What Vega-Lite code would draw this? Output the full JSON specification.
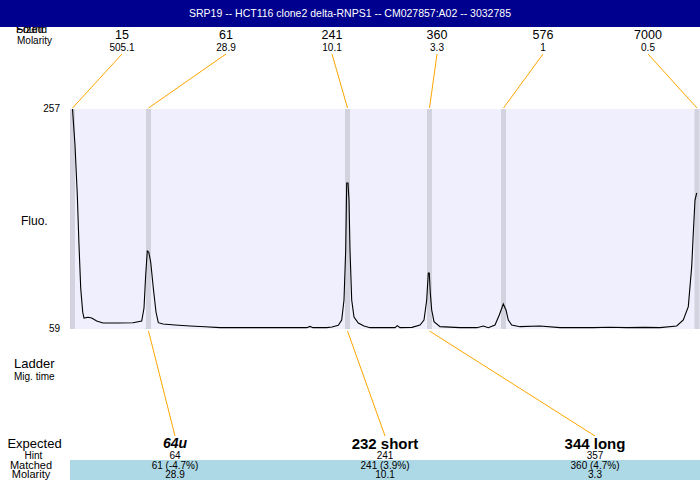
{
  "$schema": "https://vega.github.io/schema/vega-lite/v6.json",
  "width": 700,
  "height": 480,
  "autosize": {"type": "none"},
  "padding": 0,
  "background": "white",
  "config": {"view": {"stroke": null}, "font": "Liberation Sans", "text": {"font": "Liberation Sans"}},
  "datasets": {
    "ladder": [
      {"size": "15", "molarity": "505.1", "label_pos": 122, "peak_pos": 72.5},
      {"size": "61", "molarity": "28.9", "label_pos": 226, "peak_pos": 148.5},
      {"size": "241", "molarity": "10.1", "label_pos": 332, "peak_pos": 347.5},
      {"size": "360", "molarity": "3.3", "label_pos": 437, "peak_pos": 429.5},
      {"size": "576", "molarity": "1", "label_pos": 543, "peak_pos": 503.5},
      {"size": "7000", "molarity": "0.5", "label_pos": 648, "peak_pos": 697}
    ],
    "peaks": [
      {"name": "64u", "hint": "64", "matched": "61 (-4.7%)", "molarity": "28.9", "label_pos": 175, "peak_pos": 148.5, "italic": true},
      {"name": "232 short", "hint": "241", "matched": "241 (3.9%)", "molarity": "10.1", "label_pos": 385, "peak_pos": 347.5, "italic": false},
      {"name": "344 long", "hint": "357", "matched": "360 (4.7%)", "molarity": "3.3", "label_pos": 595, "peak_pos": 429.5, "italic": false}
    ],
    "trace": [
      {"t": 72.5, "fluo": 257}, {"t": 75, "fluo": 224.6}, {"t": 77.3, "fluo": 179.6}, {"t": 79, "fluo": 134.6},
      {"t": 80.7, "fluo": 95.9}, {"t": 82.7, "fluo": 74.3}, {"t": 84, "fluo": 68.9}, {"t": 88, "fluo": 69.6},
      {"t": 91.7, "fluo": 68.9}, {"t": 96.7, "fluo": 66.2}, {"t": 103, "fluo": 64.4}, {"t": 118, "fluo": 64.4},
      {"t": 133, "fluo": 64.6}, {"t": 141.7, "fluo": 66.2}, {"t": 144, "fluo": 77.9}, {"t": 145.7, "fluo": 107.6},
      {"t": 147.3, "fluo": 129.2}, {"t": 148.7, "fluo": 128.3}, {"t": 150.7, "fluo": 119.3}, {"t": 153.3, "fluo": 95.9},
      {"t": 156, "fluo": 74.3}, {"t": 158.3, "fluo": 64.7}, {"t": 163, "fluo": 63.5}, {"t": 175, "fluo": 62.6},
      {"t": 190, "fluo": 61.7}, {"t": 205, "fluo": 61.0}, {"t": 220, "fluo": 60.2}, {"t": 240, "fluo": 60.2},
      {"t": 260, "fluo": 60.2}, {"t": 285, "fluo": 60.2}, {"t": 306.7, "fluo": 60.2}, {"t": 310, "fluo": 61.3},
      {"t": 313, "fluo": 60.2}, {"t": 326.7, "fluo": 60.2}, {"t": 332, "fluo": 60.8}, {"t": 338.3, "fluo": 62.3},
      {"t": 341.7, "fluo": 67.1}, {"t": 344, "fluo": 85.1}, {"t": 345.7, "fluo": 130.1}, {"t": 346.7, "fluo": 190.4},
      {"t": 348, "fluo": 190.4}, {"t": 349, "fluo": 175.1}, {"t": 350, "fluo": 130.1}, {"t": 351.7, "fluo": 85.1},
      {"t": 354, "fluo": 69.8}, {"t": 358.3, "fluo": 64.4}, {"t": 364, "fluo": 61.7}, {"t": 370, "fluo": 60.2},
      {"t": 395, "fluo": 60.2}, {"t": 397.3, "fluo": 62.0}, {"t": 400, "fluo": 60.2}, {"t": 412, "fluo": 60.5},
      {"t": 420, "fluo": 62.6}, {"t": 424, "fluo": 67.1}, {"t": 426.7, "fluo": 85.1}, {"t": 428.3, "fluo": 109.4},
      {"t": 429.3, "fluo": 109.4}, {"t": 430.3, "fluo": 91.4}, {"t": 431.7, "fluo": 76.1}, {"t": 434, "fluo": 65.6},
      {"t": 440, "fluo": 61.1}, {"t": 460, "fluo": 60.2}, {"t": 477, "fluo": 60.2}, {"t": 483.3, "fluo": 61.7},
      {"t": 488.3, "fluo": 60.2}, {"t": 495, "fluo": 62.6}, {"t": 499.3, "fluo": 71.6}, {"t": 503.3, "fluo": 81.5},
      {"t": 506, "fluo": 76.1}, {"t": 508.3, "fluo": 67.1}, {"t": 511.7, "fluo": 62.6}, {"t": 520, "fluo": 61.1},
      {"t": 540, "fluo": 61.7}, {"t": 560, "fluo": 60.2}, {"t": 593, "fluo": 60.2}, {"t": 610, "fluo": 60.6},
      {"t": 626.7, "fluo": 60.2}, {"t": 645, "fluo": 60.5}, {"t": 660, "fluo": 60.2}, {"t": 676.7, "fluo": 61.7},
      {"t": 683.3, "fluo": 67.1}, {"t": 688.3, "fluo": 79.1}, {"t": 691.7, "fluo": 115.1}, {"t": 693.3, "fluo": 145.4},
      {"t": 695, "fluo": 175.1}, {"t": 696.7, "fluo": 181.4}
    ]
  },
  "resolve": {"scale": {"y": "independent"}},
  "layer": [
    {
      "layer": [
        {
          "data": {"values": [{}]},
          "mark": {"type": "rect", "color": "#efeffd"},
          "encoding": {
            "x": {"datum": 70, "type": "quantitative", "scale": {"domain": [0, 700], "nice": false, "zero": false}, "axis": null},
            "x2": {"datum": 700},
            "y": {"datum": 59, "type": "quantitative", "scale": {"domain": [59, 257], "range": [329, 109], "nice": false, "zero": false}, "axis": null},
            "y2": {"datum": 257}
          }
        },
        {
          "data": {"name": "ladder"},
          "mark": {"type": "rule", "color": "#d3d3df", "strokeWidth": 5},
          "encoding": {
            "x": {"field": "peak_pos", "type": "quantitative", "axis": null},
            "y": {"datum": 59, "type": "quantitative", "axis": null},
            "y2": {"datum": 257}
          }
        },
        {
          "data": {"name": "trace"},
          "mark": {"type": "line", "color": "black", "strokeWidth": 1.1},
          "encoding": {
            "x": {"field": "t", "type": "quantitative", "axis": null},
            "y": {"field": "fluo", "type": "quantitative", "axis": null}
          }
        },
        {
          "data": {"values": [{"fluo": 257}, {"fluo": 59}]},
          "mark": {"type": "text", "align": "right", "baseline": "middle", "fontSize": 10, "color": "black"},
          "encoding": {
            "x": {"datum": 60, "type": "quantitative", "axis": null},
            "y": {"field": "fluo", "type": "quantitative", "axis": null},
            "text": {"field": "fluo", "type": "quantitative"}
          }
        }
      ]
    },
    {
      "layer": [
        {
          "data": {"values": [{"t": "Found"}, {"t": "Sized"}]},
          "mark": {"type": "text", "align": "left", "baseline": "middle", "fontSize": 11, "color": "black"},
          "encoding": {
            "x": {"datum": 16, "type": "quantitative", "axis": null},
            "y": {"datum": 29.5, "type": "quantitative", "scale": {"domain": [0, 480], "reverse": true, "nice": false, "zero": false}, "axis": null},
            "text": {"field": "t"}
          }
        },
        {
          "data": {"values": [{}]},
          "mark": {"type": "rect", "color": "#00008f"},
          "encoding": {
            "x": {"datum": 0, "type": "quantitative", "axis": null},
            "x2": {"datum": 700},
            "y": {"datum": 0, "type": "quantitative", "axis": null},
            "y2": {"datum": 27}
          }
        },
        {
          "data": {"values": [{}]},
          "mark": {"type": "text", "text": "SRP19 -- HCT116 clone2 delta-RNPS1 -- CM027857:A02 -- 3032785", "align": "center", "baseline": "middle", "fontSize": 10.5, "color": "white"},
          "encoding": {
            "x": {"datum": 350, "type": "quantitative", "axis": null},
            "y": {"datum": 14, "type": "quantitative", "axis": null}
          }
        },
        {
          "data": {"values": [{}]},
          "mark": {"type": "rect", "color": "#add8e6"},
          "encoding": {
            "x": {"datum": 70, "type": "quantitative", "axis": null},
            "x2": {"datum": 700},
            "y": {"datum": 460, "type": "quantitative", "axis": null},
            "y2": {"datum": 480}
          }
        },
        {
          "data": {"name": "ladder"},
          "mark": {"type": "rule", "color": "#ffa500", "strokeWidth": 1},
          "encoding": {
            "x": {"field": "label_pos", "type": "quantitative", "axis": null},
            "y": {"datum": 54, "type": "quantitative", "axis": null},
            "x2": {"field": "peak_pos"},
            "y2": {"datum": 108}
          }
        },
        {
          "data": {"name": "peaks"},
          "mark": {"type": "rule", "color": "#ffa500", "strokeWidth": 1},
          "encoding": {
            "x": {"field": "peak_pos", "type": "quantitative", "axis": null},
            "y": {"datum": 331, "type": "quantitative", "axis": null},
            "x2": {"field": "label_pos"},
            "y2": {"datum": 436}
          }
        },
        {
          "data": {"name": "ladder"},
          "mark": {"type": "text", "align": "center", "baseline": "middle", "fontSize": 12.5, "color": "black"},
          "encoding": {
            "x": {"field": "label_pos", "type": "quantitative", "axis": null},
            "y": {"datum": 34.5, "type": "quantitative", "axis": null},
            "text": {"field": "size"}
          }
        },
        {
          "data": {"name": "ladder"},
          "mark": {"type": "text", "align": "center", "baseline": "middle", "fontSize": 10, "color": "black"},
          "encoding": {
            "x": {"field": "label_pos", "type": "quantitative", "axis": null},
            "y": {"datum": 47.5, "type": "quantitative", "axis": null},
            "text": {"field": "molarity"}
          }
        },
        {
          "data": {"values": [{}]},
          "mark": {"type": "text", "text": "Molarity", "align": "left", "baseline": "middle", "fontSize": 10, "color": "black"},
          "encoding": {
            "x": {"datum": 17, "type": "quantitative", "axis": null},
            "y": {"datum": 41, "type": "quantitative", "axis": null}
          }
        },
        {
          "data": {"values": [{}]},
          "mark": {"type": "text", "text": "Fluo.", "align": "left", "baseline": "middle", "fontSize": 12, "color": "black"},
          "encoding": {
            "x": {"datum": 21, "type": "quantitative", "axis": null},
            "y": {"datum": 221, "type": "quantitative", "axis": null}
          }
        },
        {
          "data": {"values": [{}]},
          "mark": {"type": "text", "text": "Ladder", "align": "left", "baseline": "middle", "fontSize": 13, "color": "black"},
          "encoding": {
            "x": {"datum": 14, "type": "quantitative", "axis": null},
            "y": {"datum": 364, "type": "quantitative", "axis": null}
          }
        },
        {
          "data": {"values": [{}]},
          "mark": {"type": "text", "text": "Mig. time", "align": "left", "baseline": "middle", "fontSize": 10, "color": "black"},
          "encoding": {
            "x": {"datum": 14, "type": "quantitative", "axis": null},
            "y": {"datum": 376.5, "type": "quantitative", "axis": null}
          }
        },
        {
          "data": {"values": [{}]},
          "mark": {"type": "text", "text": "Expected", "align": "center", "baseline": "middle", "fontSize": 13, "color": "black"},
          "encoding": {
            "x": {"datum": 34.5, "type": "quantitative", "axis": null},
            "y": {"datum": 444, "type": "quantitative", "axis": null}
          }
        },
        {
          "data": {"values": [{}]},
          "mark": {"type": "text", "text": "Hint", "align": "center", "baseline": "middle", "fontSize": 10, "color": "black"},
          "encoding": {
            "x": {"datum": 33.5, "type": "quantitative", "axis": null},
            "y": {"datum": 455.5, "type": "quantitative", "axis": null}
          }
        },
        {
          "data": {"values": [{"t": "Matched", "r": 465.5}, {"t": "Molarity", "r": 474.5}]},
          "mark": {"type": "text", "align": "center", "baseline": "middle", "fontSize": 11, "color": "black"},
          "encoding": {
            "x": {"datum": 31, "type": "quantitative", "axis": null},
            "y": {"field": "r", "type": "quantitative", "axis": null},
            "text": {"field": "t"}
          }
        },
        {
          "data": {"name": "peaks"},
          "transform": [{"filter": "datum.italic"}],
          "mark": {"type": "text", "align": "center", "baseline": "middle", "fontSize": 14, "fontWeight": "bold", "fontStyle": "italic", "color": "black"},
          "encoding": {
            "x": {"field": "label_pos", "type": "quantitative", "axis": null},
            "y": {"datum": 443.5, "type": "quantitative", "axis": null},
            "text": {"field": "name"}
          }
        },
        {
          "data": {"name": "peaks"},
          "transform": [{"filter": "!datum.italic"}],
          "mark": {"type": "text", "align": "center", "baseline": "middle", "fontSize": 15, "fontWeight": "bold", "color": "black"},
          "encoding": {
            "x": {"field": "label_pos", "type": "quantitative", "axis": null},
            "y": {"datum": 443.5, "type": "quantitative", "axis": null},
            "text": {"field": "name"}
          }
        },
        {
          "data": {"name": "peaks"},
          "mark": {"type": "text", "align": "center", "baseline": "middle", "fontSize": 10, "color": "black"},
          "encoding": {
            "x": {"field": "label_pos", "type": "quantitative", "axis": null},
            "y": {"datum": 455.5, "type": "quantitative", "axis": null},
            "text": {"field": "hint"}
          }
        },
        {
          "data": {"name": "peaks"},
          "mark": {"type": "text", "align": "center", "baseline": "middle", "fontSize": 10, "color": "black"},
          "encoding": {
            "x": {"field": "label_pos", "type": "quantitative", "axis": null},
            "y": {"datum": 465.5, "type": "quantitative", "axis": null},
            "text": {"field": "matched"}
          }
        },
        {
          "data": {"name": "peaks"},
          "mark": {"type": "text", "align": "center", "baseline": "middle", "fontSize": 10, "color": "black"},
          "encoding": {
            "x": {"field": "label_pos", "type": "quantitative", "axis": null},
            "y": {"datum": 474.5, "type": "quantitative", "axis": null},
            "text": {"field": "molarity"}
          }
        }
      ]
    }
  ]
}
